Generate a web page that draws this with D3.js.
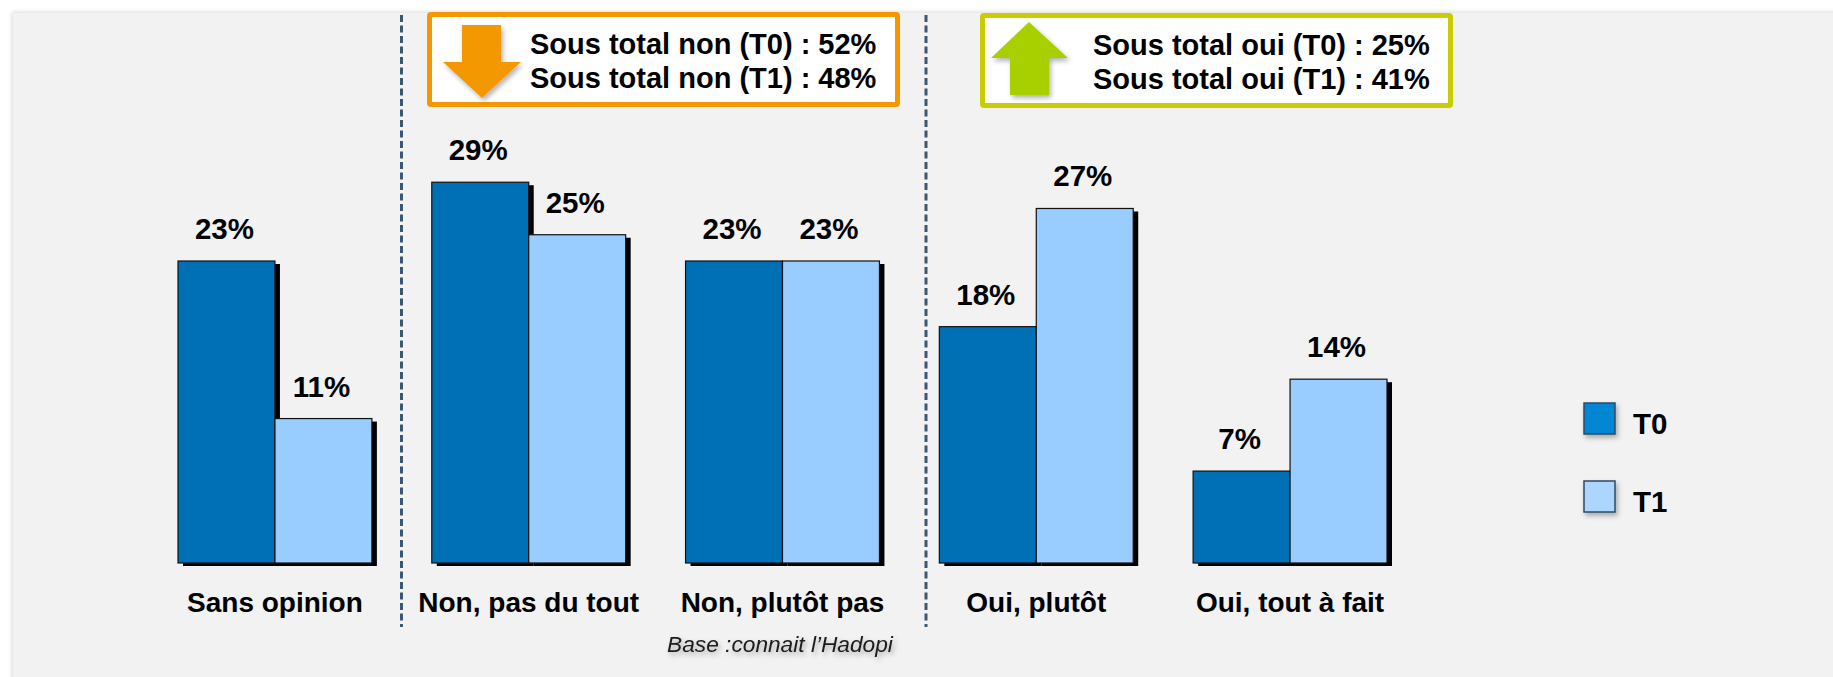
<!DOCTYPE html>
<html>
<head>
<meta charset="utf-8">
<script src="https://cdn.jsdelivr.net/npm/d3@7"></script>
<style>
  body { margin: 0; background: #ffffff; }
  text { font-family: "Liberation Sans", Arial, sans-serif; }
</style>
</head>
<body>
<div id="chart-area"></div>
<script>
// data
var categories = ["Sans opinion", "Non, pas du tout", "Non, plutôt pas", "Oui, plutôt", "Oui, tout à fait"];
var seriesNames = ["T0", "T1"];
var valuesT0 = [23, 29, 23, 18, 7];
var valuesT1 = [11, 25, 23, 27, 14];
var boxNon = ["Sous total non (T0) : 52%", "Sous total non (T1) : 48%"];
var boxOui = ["Sous total oui (T0) : 25%", "Sous total oui (T1) : 41%"];
var baseNote = "Base :connait l\u2019Hadopi";

var W = 1833, H = 677;
var baseline = 563;

var svg = d3.select("#chart-area")
    .append("svg")
        .attr("width", W)
        .attr("height", H);

var defs = svg.append("defs");
var f = defs.append("filter").attr("id", "soft").attr("x", "-30%").attr("y", "-30%").attr("width", "160%").attr("height", "160%");
f.append("feDropShadow").attr("dx", 2).attr("dy", 3).attr("stdDeviation", 2.5).attr("flood-color", "#000").attr("flood-opacity", 0.3);
var f2 = defs.append("filter").attr("id", "panel").attr("x", "-5%").attr("y", "-5%").attr("width", "110%").attr("height", "110%");
f2.append("feDropShadow").attr("dx", -1).attr("dy", -1).attr("stdDeviation", 2).attr("flood-color", "#000").attr("flood-opacity", 0.15);

// panel background
svg.append("rect")
    .attr("x", 13).attr("y", 13)
    .attr("width", W).attr("height", H)
    .attr("fill", "#f2f2f2")
    .attr("filter", "url(#panel)");

// scales
var x0 = d3.scaleBand()
    .domain(categories)
    .range([178, 1387])
    .paddingInner(0.236)
    .paddingOuter(0);

var x1 = d3.scaleBand()
    .domain(seriesNames)
    .range([0, x0.bandwidth()]);

var y = d3.scaleLinear()
    .domain([0, 23])
    .range([baseline, 261]);

var colors = { T0: "#0070b6", T1: "#99ccff" };

var rows = categories.map(function(c, i) {
    return { cat: c, vals: [
        { s: "T0", v: valuesT0[i] },
        { s: "T1", v: valuesT1[i] }
    ] };
});

var groups = svg.selectAll(".grp")
    .data(rows)
    .enter().append("g")
        .attr("class", "grp")
        .attr("transform", function(d) { return "translate(" + x0(d.cat) + ",0)"; });

// shadows first
groups.selectAll(".shadow")
    .data(function(d) { return d.vals; })
    .enter().append("rect")
        .attr("class", "shadow")
        .attr("x", function(d) { return x1(d.s) + 5; })
        .attr("y", function(d) { return y(d.v) + 3; })
        .attr("width", x1.bandwidth())
        .attr("height", function(d) { return baseline - y(d.v); })
        .attr("fill", "#000");

groups.selectAll(".bar")
    .data(function(d) { return d.vals; })
    .enter().append("rect")
        .attr("class", "bar")
        .attr("x", function(d) { return x1(d.s); })
        .attr("y", function(d) { return y(d.v); })
        .attr("width", x1.bandwidth())
        .attr("height", function(d) { return baseline - y(d.v); })
        .attr("fill", function(d) { return colors[d.s]; })
        .attr("stroke", "#111")
        .attr("stroke-width", 1.2);

groups.selectAll(".val")
    .data(function(d) { return d.vals; })
    .enter().append("text")
        .attr("class", "val")
        .attr("x", function(d) { return x1(d.s) + x1.bandwidth() / 2 - 2; })
        .attr("y", function(d) { return y(d.v) - 22; })
        .attr("text-anchor", "middle")
        .attr("font-size", "29.5px")
        .attr("font-weight", "bold")
        .attr("fill", "#000")
        .text(function(d) { return d.v + "%"; });

// category labels
var xAxisCall = d3.axisBottom(x0).tickSize(0).tickPadding(0);
var xAxisGroup = svg.append("g")
    .attr("transform", "translate(0," + 612 + ")")
    .call(xAxisCall);
xAxisGroup.select(".domain").remove();
xAxisGroup.selectAll("text")
    .attr("dy", 0)
    .attr("y", 0)
    .attr("font-size", "28px")
    .attr("font-weight", "bold")
    .attr("fill", "#000")
    .style("font-family", "'Liberation Sans', Arial, sans-serif");

// dashed separators
[401.5, 926].forEach(function(xx) {
    svg.append("line")
        .attr("x1", xx).attr("x2", xx)
        .attr("y1", 15).attr("y2", 627)
        .attr("stroke", "#3b5873")
        .attr("stroke-width", 3)
        .attr("stroke-dasharray", "7,3.5");
});

// base note
svg.append("text")
    .attr("x", 780)
    .attr("y", 652)
    .attr("text-anchor", "middle")
    .attr("font-size", "22.7px")
    .attr("font-style", "italic")
    .attr("fill", "#1a1a1a")
    .attr("filter", "url(#soft)")
    .text(baseNote);

// summary boxes
function box(x, yy, w, h, stroke, lines, tx) {
    svg.append("rect")
        .attr("x", x + 2.5).attr("y", yy + 2.5)
        .attr("width", w - 5).attr("height", h - 5)
        .attr("fill", "#fff")
        .attr("stroke", stroke)
        .attr("stroke-width", 5)
        .attr("rx", 1.5);
    svg.selectAll(null)
        .data(lines)
        .enter().append("text")
            .attr("x", tx)
            .attr("y", function(d, i) { return yy + 42 + i * 34; })
            .attr("font-size", "29px")
            .attr("font-weight", "bold")
            .attr("fill", "#000")
            .text(function(d) { return d; });
}

box(427, 12, 473, 95, "#f39800", boxNon, 530);
box(980, 13, 473, 95, "#c8cc00", boxOui, 1093);

// down arrow (orange)
svg.append("path")
    .attr("d", "M462,25 L501,25 L501,62 L521,62 L482,98 L443,62 L462,62 Z")
    .attr("fill", "#f39800")
    .attr("filter", "url(#soft)");

// up arrow (green)
svg.append("path")
    .attr("d", "M1029,22 L1068,58 L1049,58 L1049,95 L1010,95 L1010,58 L991,58 Z")
    .attr("fill", "#a8d000")
    .attr("filter", "url(#soft)");

// legend
var legendColors = { T0: "#0086d2", T1: "#add6ff" };
var legendY = { T0: 403, T1: 481 };
var legend = svg.selectAll(".leg")
    .data(seriesNames)
    .enter().append("g")
        .attr("class", "leg");
legend.append("rect")
    .attr("x", 1584)
    .attr("y", function(d) { return legendY[d]; })
    .attr("width", 31).attr("height", 31)
    .attr("fill", function(d) { return legendColors[d]; })
    .attr("stroke", "#2b4a68")
    .attr("stroke-width", 1.5)
    .attr("filter", "url(#soft)");
legend.append("text")
    .attr("x", 1633)
    .attr("y", function(d) { return legendY[d] + 31; })
    .attr("font-size", "29.5px")
    .attr("font-weight", "bold")
    .attr("fill", "#000")
    .text(function(d) { return d; });
</script>
</body>
</html>
